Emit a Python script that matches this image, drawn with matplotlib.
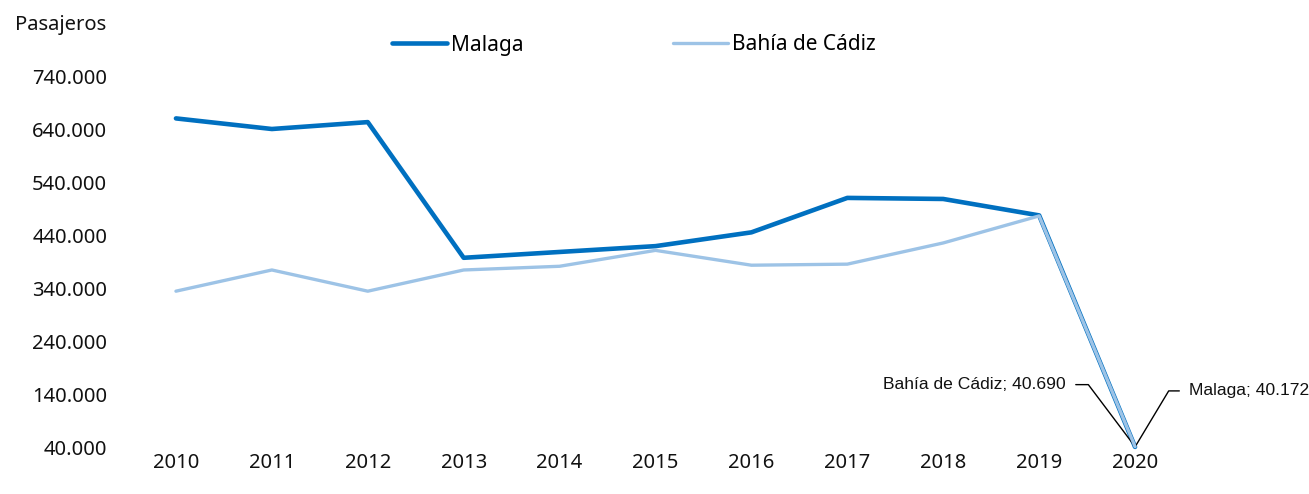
import matplotlib.pyplot as plt
from matplotlib.ticker import FuncFormatter

years = [2010, 2011, 2012, 2013, 2014, 2015, 2016, 2017, 2018, 2019, 2020]
malaga = [660000, 640000, 653000, 397000, 408000, 419000, 445000, 510000, 508000, 477000, 40172]
cadiz = [334000, 374000, 334000, 374000, 381000, 411000, 383000, 385000, 425000, 476000, 40690]
yticks = [40000, 140000, 240000, 340000, 440000, 540000, 640000, 740000]

c_malaga = '#0070C0'
c_cadiz = '#9DC3E6'

plt.rcParams['font.family'] = ['Noto Sans', 'DejaVu Sans']
narrow = ['Liberation Sans Narrow', 'Liberation Sans', 'DejaVu Sans']

fig = plt.figure(figsize=(13.09, 4.94), dpi=100)
ax = fig.add_axes([128 / 1309, 1 - 447 / 494, (1183 - 128) / 1309, (447 - 76) / 494])

x = list(range(len(years)))
ax.plot(x, malaga, color=c_malaga, lw=3.3, solid_capstyle='round', label='Malaga', clip_on=False, zorder=3)
ax.plot(x, cadiz, color=c_cadiz, lw=2.4, solid_capstyle='round', label='Bahía de Cádiz', clip_on=False, zorder=4)

ax.set_xlim(-0.5, len(years) - 0.5)
ax.set_ylim(yticks[0], yticks[-1])
ax.set_xticks(x)
ax.set_xticklabels([str(y) for y in years])
ax.set_yticks(yticks)
ax.yaxis.set_major_formatter(FuncFormatter(lambda v, p: f'{int(v):,}'.replace(',', '.')))
ax.tick_params(axis='both', length=0, labelsize=14.5, colors='#111111')
ax.tick_params(axis='y', pad=15)
ax.tick_params(axis='x', pad=4)
for s in ax.spines.values():
    s.set_visible(False)

# data labels for 2020
ax.annotate(f'Bahía de Cádiz; {cadiz[-1]:,}'.replace(',', '.'), xy=(x[-1], cadiz[-1]),
            xytext=(-69, 62), textcoords='offset pixels', ha='right', va='center',
            fontsize=12.6, family=narrow, color='#111111',
            arrowprops=dict(arrowstyle='-', color='black', lw=1, relpos=(1, 0.5), shrinkA=5, shrinkB=0,
                            connectionstyle='angle,angleA=0,angleB=127,rad=0'))
ax.annotate(f'Malaga; {malaga[-1]:,}'.replace(',', '.'), xy=(x[-1], malaga[-1]),
            xytext=(54, 56), textcoords='offset pixels', ha='left', va='center',
            fontsize=12.6, family=narrow, color='#111111',
            arrowprops=dict(arrowstyle='-', color='black', lw=1, relpos=(0, 0.5), shrinkA=5, shrinkB=0,
                            connectionstyle='angle,angleA=0,angleB=59,rad=0'))

fig.text(15 / 1309, 1 - 25 / 494, 'Pasajeros', fontsize=14.5, va='center', ha='left', color='#111111')

fig.legend(loc='center', bbox_to_anchor=(634 / 1309, 1 - 45 / 494), ncol=2, frameon=False,
           fontsize=15, handlelength=2.6, handletextpad=0.2, columnspacing=7.2)

fig.savefig('out.png', dpi=100)
